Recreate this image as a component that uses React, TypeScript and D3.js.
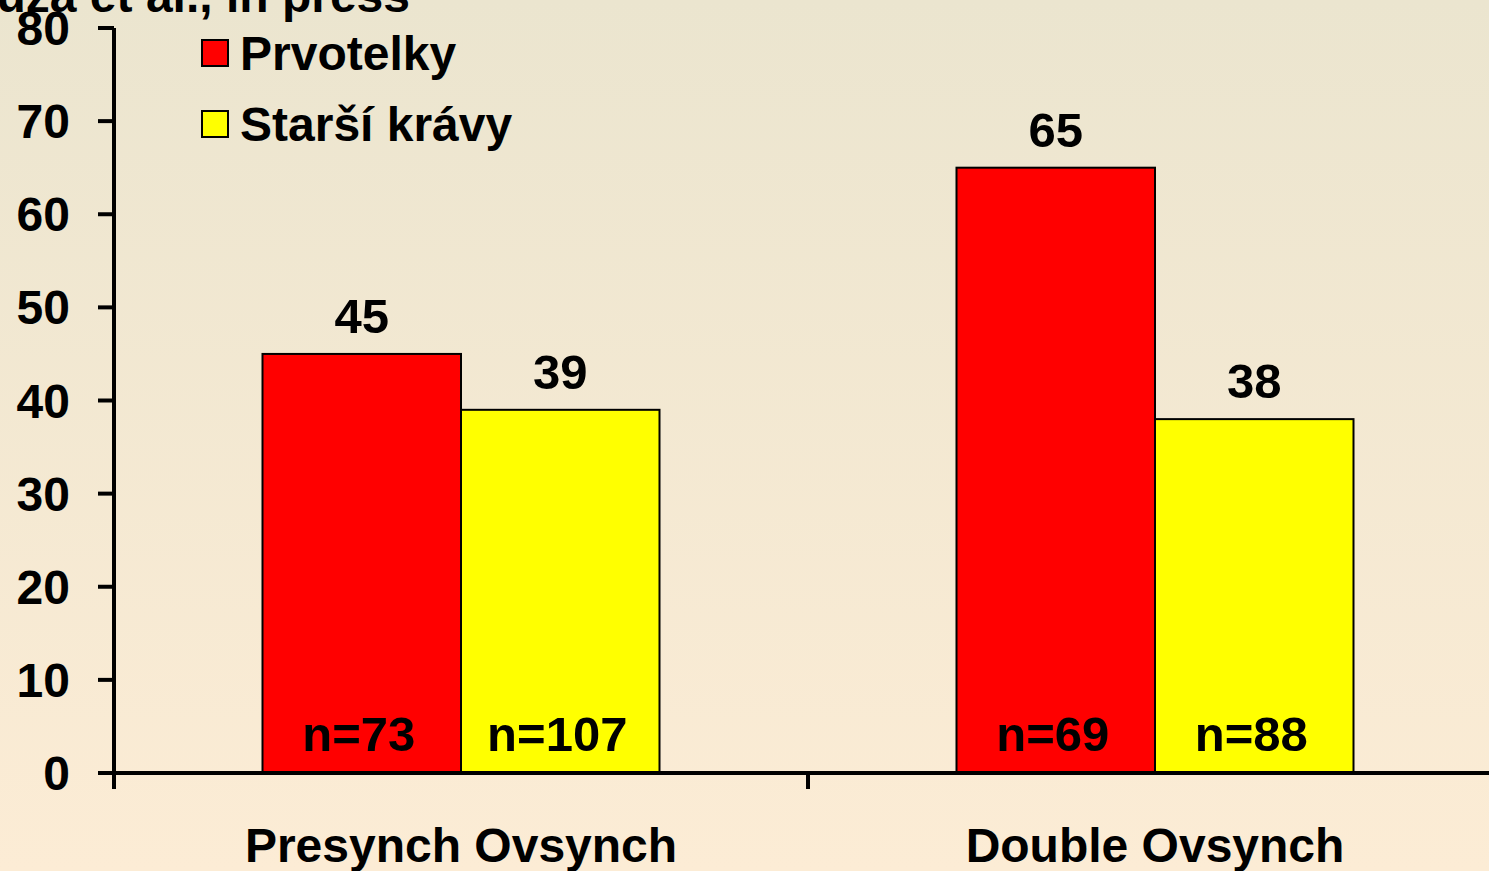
import React from "react";
import * as d3 from "d3";

const categories = ["Presynch Ovsynch", "Double Ovsynch"];
const seriesNames = ["Prvotelky", "Starší krávy"];
const seriesColors = ["#ff0000", "#ffff00"];
const prvotelky = [45, 65];
const starsiKravy = [39, 38];
const nPrvotelky = ["n=73", "n=69"];
const nStarsiKravy = ["n=107", "n=88"];
const yTicks = [0, 10, 20, 30, 40, 50, 60, 70, 80];
const sourceNote = "Souza et al., in press";

const W = 1489;
const H = 871;
const FONT = "'Liberation Sans', Arial, sans-serif";

export default function App() {
  const y = d3.scaleLinear().domain([0, 80]).range([773, 28]);
  const x0 = d3.scaleBand<string>().domain(categories).range([114, 1502]).padding(0);
  const inner = 148.5;
  const x1 = d3
    .scaleBand<string>()
    .domain(seriesNames)
    .range([inner, x0.bandwidth() - inner])
    .padding(0);
  const values = [prvotelky, starsiKravy];
  const nLabels = [nPrvotelky, nStarsiKravy];

  return (
    <div style={{ position: "fixed", left: 0, top: 0 }}>
      <svg width={W} height={H} style={{ display: "block" }}>
        <defs>
          <linearGradient id="bg" x1="0" y1="0" x2="0" y2="1">
            <stop offset="0" stopColor="#ebe5cf" />
            <stop offset="1" stopColor="#fcecd5" />
          </linearGradient>
        </defs>
        <rect x={0} y={0} width={W} height={H} fill="url(#bg)" />
        <text
          x={410}
          y={12}
          textAnchor="end"
          fontFamily={FONT}
          fontWeight="bold"
          fontSize={48}
          fill="#000"
        >
          {sourceNote}
        </text>

        {/* bars */}
        {categories.map((c, ci) =>
          seriesNames.map((s, si) => {
            const v = values[si][ci];
            const bx = (x0(c) as number) + (x1(s) as number);
            const bw = x1.bandwidth();
            return (
              <g key={c + s}>
                <rect
                  x={bx}
                  y={y(v)}
                  width={bw}
                  height={y(0) - y(v)}
                  fill={seriesColors[si]}
                  stroke="#000"
                  strokeWidth={2}
                />
                <text
                  x={bx + bw / 2}
                  y={y(v) - 21}
                  textAnchor="middle"
                  fontFamily={FONT}
                  fontWeight="bold"
                  fontSize={49}
                >
                  {v}
                </text>
                <text
                  x={bx + bw / 2 - 3}
                  y={751}
                  textAnchor="middle"
                  fontFamily={FONT}
                  fontWeight="bold"
                  fontSize={49}
                >
                  {nLabels[si][ci]}
                </text>
              </g>
            );
          })
        )}

        {/* y axis */}
        <line x1={114} x2={114} y1={y(80)} y2={789} stroke="#000" strokeWidth={4} />
        {yTicks.map((t) => (
          <g key={t}>
            <line x1={98} x2={114} y1={y(t)} y2={y(t)} stroke="#000" strokeWidth={4} />
            <text
              x={70}
              y={y(t) + 17}
              textAnchor="end"
              fontFamily={FONT}
              fontWeight="bold"
              fontSize={48}
            >
              {t}
            </text>
          </g>
        ))}

        {/* x axis */}
        <line x1={112} x2={1502} y1={y(0)} y2={y(0)} stroke="#000" strokeWidth={4} />
        {categories.slice(1).map((c) => (
          <line
            key={c}
            x1={x0(c) as number}
            x2={x0(c) as number}
            y1={y(0)}
            y2={789}
            stroke="#000"
            strokeWidth={4}
          />
        ))}
        {categories.map((c) => (
          <text
            key={c}
            x={(x0(c) as number) + x0.bandwidth() / 2}
            y={862}
            textAnchor="middle"
            fontFamily={FONT}
            fontWeight="bold"
            fontSize={48}
          >
            {c}
          </text>
        ))}

        {/* legend */}
        {seriesNames.map((s, i) => (
          <g key={s} transform={`translate(202, ${40 + i * 71})`}>
            <rect x={0} y={0} width={26} height={26} fill={seriesColors[i]} stroke="#000" strokeWidth={2} />
            <text x={38} y={30} fontFamily={FONT} fontWeight="bold" fontSize={48}>
              {s}
            </text>
          </g>
        ))}
      </svg>
    </div>
  );
}
